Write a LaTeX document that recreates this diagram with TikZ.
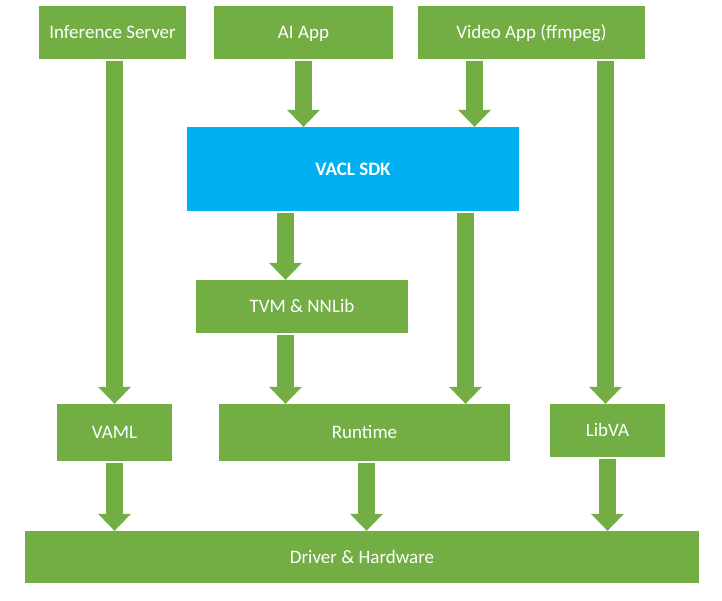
\documentclass[tikz,border=0pt]{standalone}
\usepackage{fontspec}
\setmainfont{Carlito}
\usetikzlibrary{arrows.meta}
\definecolor{boxgreen}{HTML}{72AE44}
\definecolor{sdkblue}{HTML}{00B0F0}

\begin{document}
\begin{tikzpicture}[x=1pt,y=-1pt,
    layer/.style={fill=boxgreen,text=white,inner sep=0pt,text height=12pt,text depth=0pt,font=\fontsize{19}{22}\selectfont},
    fat/.style={draw=boxgreen,line width=17pt,-{Triangle[width=33pt,length=17pt,line width=0pt]},shorten <=1.5pt}]
      \useasboundingbox (0,0) rectangle (722,600);
      % top row
      \node[layer,minimum width=147pt,minimum height=53pt] (infer) at (112.5,32.5) {Inference Server};
      \node[layer,minimum width=179pt,minimum height=53pt] (aiapp) at (303.5,32.5) {AI App};
      \node[layer,minimum width=227pt,minimum height=53pt] (video) at (531.5,32.5) {Video App (ffmpeg)};
      \node[layer,fill=sdkblue,font=\fontsize{19}{22}\selectfont\bfseries,minimum width=332pt,minimum height=84pt] (vacl) at (353,169) {VACL SDK};
      \node[layer,minimum width=212pt,minimum height=53pt] (tvm) at (302,306.5) {TVM \& NNLib};
      % lower layers
      \node[layer,minimum width=115pt,minimum height=57pt] (vaml) at (114.5,432.5) {VAML};
      \node[layer,minimum width=291pt,minimum height=57pt] (runtime) at (364.5,432.5) {Runtime};
      \node[layer,minimum width=115pt,minimum height=53pt] (libva) at (607.5,430.5) {LibVA};
      \node[layer,minimum width=674pt,minimum height=52pt] (driver) at (362,557) {Driver \& Hardware};
      % arrows
      \draw[fat] (vaml.north |- infer.south) -- (vaml.north);
      \draw[fat] (aiapp.south) -- (aiapp.south |- vacl.north);
      \foreach \x/\a/\b in {474.5/video/vacl,605.5/video/libva,285.5/vacl/tvm,465.5/vacl/runtime,285.5/tvm/runtime,366.5/runtime/driver}
        \draw[fat] (\x,0 |- \a.south) -- (\x,0 |- \b.north);
      \draw[fat] (vaml.south) -- (vaml.south |- driver.north);
      \draw[fat] (libva.south) -- (libva.south |- driver.north);
    \end{tikzpicture}
\end{document}
